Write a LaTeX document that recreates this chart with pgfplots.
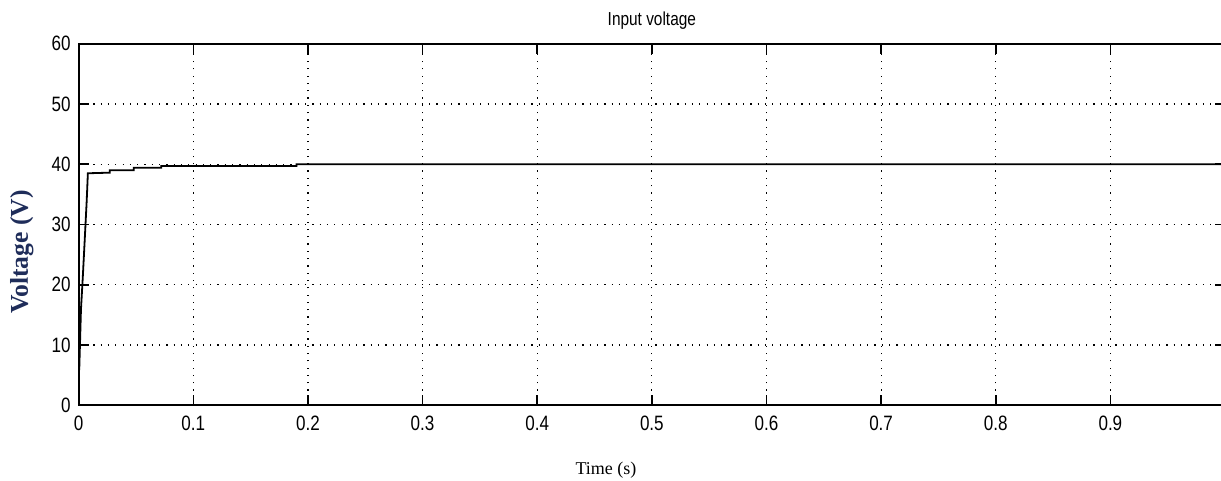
\documentclass[border=0pt]{standalone}
\usepackage{pgfplots}
\pgfplotsset{compat=1.18}
\usepackage{fontspec}
\setmainfont{Liberation Serif}
\newfontfamily\tickfont[FakeStretch=0.82]{Liberation Sans}
\definecolor{ylab}{RGB}{31,45,90}
\begin{document}
\begin{tikzpicture}
\path[use as bounding box] (-39.35pt,-37.85pt) rectangle (571.15pt,202.65pt);
\begin{axis}[
  at={(0,0)}, anchor=south west,
  scale only axis,
  width=573.15pt, height=180.8pt,
  xmin=0, xmax=1, ymin=0, ymax=60,
  xtick={0,0.1,...,0.9},
  xticklabels={0,0.1,0.2,0.3,0.4,0.5,0.6,0.7,0.8,0.9},
  ytick={0,10,...,60},
  tick align=inside,
  major tick length=5pt,
  minor tick num=0,
  axis line style={line width=0.9pt},
  every tick/.style={black, line width=0.8pt},
  grid=major,
  major grid style={black, line width=0.6pt, dash pattern=on 0.6pt off 3.05pt},
  tick label style={font=\tickfont\fontsize{10.4}{11}\selectfont},
  /pgf/number format/assume math mode=true,
  xticklabel style={yshift=-2pt},
  yticklabel style={xshift=-0.5pt},
  clip mode=individual,
  title={Input voltage},
  title style={font=\tickfont\fontsize{9.4}{10}\selectfont, anchor=base, at={(rel axis cs:0.5,1)}, yshift=3.3pt},
  xlabel={Time (s)},
  xlabel style={font=\fontsize{9}{10}\selectfont, anchor=base, at={(rel axis cs:0.46,0)}, yshift=-34.5pt},
  ylabel={Voltage (V)},
  ylabel style={font=\bfseries\fontsize{12.8}{13}\selectfont, text=ylab, anchor=center, at={(rel axis cs:0,0.424)}, yshift=28.4pt},
]
\addplot[black, line width=0.9pt] coordinates {
 (0,5.5) (0.0005,6) (0.002,16) (0.0035,21) (0.005,26.5) (0.007,34) (0.008,38.5)
 (0.027,38.6) (0.027,39.0) (0.048,39.0) (0.048,39.4) (0.072,39.4) (0.072,39.7)
 (0.19,39.7) (0.19,40.0) (1,40.0)
};
\end{axis}
\end{tikzpicture}
\end{document}
